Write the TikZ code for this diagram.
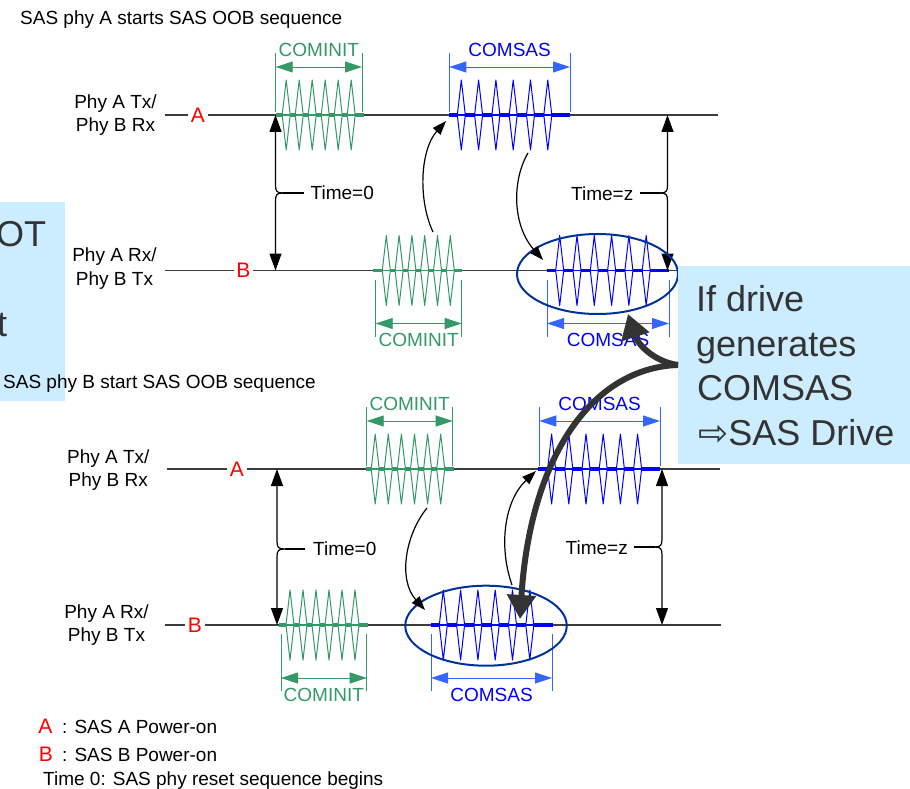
\documentclass[tikz,border=0pt]{standalone}
\usepackage{fontspec}
\setmainfont{Liberation Sans}
\newfontfamily\symfont{DejaVu Sans}
\usetikzlibrary{arrows.meta,shapes.geometric}
\definecolor{linegray}{RGB}{60,60,60}
\definecolor{cgreen}{RGB}{51,153,102}
\definecolor{cblue}{RGB}{0,0,255}
\definecolor{lblue}{RGB}{51,102,255}
\definecolor{ellnavy}{RGB}{0,51,153}
\definecolor{boxblue}{RGB}{204,236,255}
\definecolor{textgray}{RGB}{51,51,51}
\definecolor{bigarrgray}{RGB}{51,51,51}

% burst: #1 colour, #2 x0, #3 baseline y, #4 width, #5 first peak offset, #6 spacing
\newcommand\oobburst[6]{%
  \draw[#1, line width=1.2pt] (#2,#3) -- ++(#4,0);
  \foreach \k in {0,...,6}{%
    \pgfmathsetmacro\oobsa{\k==0 ? #2 : #2+#5+(\k-1)*#6+4}%
    \pgfmathsetmacro\oobsb{\k==6 ? #2+#4 : #2+#5+\k*#6-4}%
    \draw[#1, line width=3.5pt] (\oobsa,#3) -- (\oobsb,#3);
  }%
  \foreach \k in {0,...,5}{%
    \pgfmathsetmacro\oobpx{#2+#5+\k*#6}%
    \draw[#1, line width=1pt, line join=round] (\oobpx-4,#3) -- (\oobpx,#3-35) -- (\oobpx+4,#3) -- (\oobpx,#3+35) -- cycle;
  }%
}
% span marks: #1 bar colour, #2 text colour, #3 x0, #4 width, #5 baseline y, #6 text, #7 node name
\newcommand\oobspanup[7]{%
  \draw[#1, line width=0.9pt] (#3,#5-62) -- (#3,#5-3) ({#3+#4},#5-62) -- ({#3+#4},#5-3);
  \draw[#1, line width=0.9pt, spanarr] (#3,#5-48) -- ({#3+#4},#5-48);
  \node[text=#2, anchor=base] (#7) at ({#3+#4/2},#5-58.5) {#6};
}
\newcommand\oobspandown[7]{%
  \draw[#1, line width=0.9pt] (#3,#5+9) -- (#3,#5+66) ({#3+#4},#5+9) -- ({#3+#4},#5+66);
  \draw[#1, line width=0.9pt, spanarr] (#3,#5+53) -- ({#3+#4},#5+53);
  \node[text=#2, anchor=base] (#7) at ({#3+#4/2},#5+76) {#6};
}
% time brace: #1 x, #2 ytop, #3 ybot, #4 ymid, #5 dir, #6 name
\newcommand\oobtime[6]{%
  \coordinate (#6-top) at (#1,#2);
  \coordinate (#6-bot) at (#1,#3);
  \coordinate (#6-tip) at ({#1+#5*7.5},#4);
  \coordinate (#6-end) at ({#1+#5*28},#4);
  \draw[timearr] (#6-tip) .. controls ({#1+#5*1.5},#4) and (#1,{#4-1.5}) .. (#1,{#4-8}) -- (#6-top);
  \draw[timearr] (#6-tip) .. controls ({#1+#5*1.5},#4) and (#1,{#4+1.5}) .. (#1,{#4+8}) -- (#6-bot);
  \draw[line width=1.2pt] (#6-tip) -- (#6-end);
}

\begin{document}
\begin{tikzpicture}[x=1pt,y=-1pt,
  every node/.style={inner sep=0pt, font=\fontsize{19pt}{22pt}\selectfont, text=black},
  tl/.style={draw=linegray, line width=1.4pt},
  redl/.style={text=red, font=\fontsize{21pt}{24pt}\selectfont, fill=white, inner xsep=2.5pt},
  spanarr/.style={{Triangle[length=17pt,width=11pt]}-{Triangle[length=17pt,width=11pt]}},
  blkarr/.style={draw=black, line width=1.2pt, -{Triangle[length=14pt,width=10pt]}},
  timearr/.style={draw=black, line width=1.2pt, -{Triangle[length=17pt,width=12pt]}},
  bigarr/.style={draw=bigarrgray, line width=6pt, -{Triangle[length=24pt,width=28pt]}},
  calltext/.style={text=textgray, font=\fontsize{36pt}{44pt}\selectfont, anchor=base west},
  ellmark/.style={draw=ellnavy, line width=2pt, ellipse, inner sep=0pt},
]
\useasboundingbox (0,0) rectangle (910,789);
\fill[white] (0,0) rectangle (910,789);

% left (cut-off) callout
\node[fill=boxblue, anchor=north west, minimum width=65pt, minimum height=198.7pt] (callL) at (0,202) {};
\node[calltext] (cl1) at (-4,246.7) {OT};
\node[calltext] (cl2) at (-3,336.7) {t};

% titles
\node[anchor=base west] (t1) at (20,24.3) {SAS phy A starts SAS OOB sequence};
\node[anchor=base west] (t2) at (3,388.3) {SAS phy B start SAS OOB sequence};

% row labels
\node[anchor=base] (la1) at (115.5,108.3) {Phy A Tx/};
\node[anchor=base] (la2) at (115.5,131.7) {Phy B Rx};
\node[anchor=base] (lb1) at (114.5,261.7) {Phy A Rx/};
\node[anchor=base] (lb2) at (114.5,285) {Phy B Tx};
\node[anchor=base] (lc1) at (108.3,463.3) {Phy A Tx/};
\node[anchor=base] (lc2) at (108.3,486.7) {Phy B Rx};
\node[anchor=base] (ld1) at (106.5,618.3) {Phy A Rx/};
\node[anchor=base] (ld2) at (106.5,641) {Phy B Tx};

% time lines
\coordinate (LAs) at (165,115);   \coordinate (LAe) at (718,115);
\coordinate (LBs) at (165,270.5); \coordinate (LBe) at (718,270.5);
\coordinate (LCs) at (167,469);   \coordinate (LCe) at (720,469);
\coordinate (LDs) at (165,625);   \coordinate (LDe) at (721,625);
\draw[tl] (LAs) -- (LAe);
\draw[tl] (LBs) -- (LBe);
\draw[tl] (LCs) -- (LCe);
\draw[tl] (LDs) -- (LDe);
\node[redl] (ra1) at (198,115) {A};
\node[redl] (rb1) at (243.5,270.5) {B};
\node[redl] (ra2) at (237,469) {A};
\node[redl] (rb2) at (195,625) {B};

% bursts - top section
\oobburst{cgreen}{275.7}{115}{88}{10.5}{13}
\oobspanup{cgreen}{cgreen}{275.7}{86.3}{115}{COMINIT}{ciA}
\oobburst{cblue}{449.3}{115}{121}{12}{17.3}
\oobspanup{lblue}{cblue}{449.3}{120.7}{115}{COMSAS}{csA}
\oobburst{cgreen}{373.3}{270.5}{89}{13}{12.8}
\oobspandown{cgreen}{cgreen}{375.7}{86}{270.5}{COMINIT}{ciB}
\oobburst{cblue}{546.7}{270.5}{122}{13}{17.3}
\oobspandown{lblue}{cblue}{547}{122}{270.5}{COMSAS}{csB}

% bursts - bottom section
\oobburst{cgreen}{365.7}{469}{88}{9.5}{13.1}
\oobspanup{cgreen}{cgreen}{366.7}{86}{469}{COMINIT}{ciC}
\oobburst{cblue}{538.3}{469}{122}{13.3}{17.2}
\oobspanup{lblue}{cblue}{539.3}{120.7}{469}{COMSAS}{csC}
\oobburst{cgreen}{279}{625}{89}{11}{13}
\oobspandown{cgreen}{cgreen}{281}{85.7}{625}{COMINIT}{ciD}
\oobburst{cblue}{430.7}{625}{122}{12.6}{17.3}
\oobspandown{lblue}{cblue}{431}{121}{625}{COMSAS}{csD}

% time braces
\oobtime{275.5}{115}{270.5}{193}{1}{tz1}
\node[anchor=base west] (tz1l) at (310.5,199.3) {Time=0};
\oobtime{667.5}{115}{270.5}{193}{(-1)}{tzz1}
\node[anchor=base east] (tzz1l) at (633.5,200) {Time=z};
\oobtime{277}{469}{625}{549}{1}{tz2}
\node[anchor=base west] (tz2l) at (313,555) {Time=0};
\oobtime{662}{469}{625}{547}{(-1)}{tzz2}
\node[anchor=base east] (tzz2l) at (628,554.3) {Time=z};

% ellipses
\node[ellmark, minimum width=161pt, minimum height=80pt] (ellT) at (597.5,274) {};
\node[ellmark, minimum width=161.5pt, minimum height=80pt] (ellB) at (486,625.7) {};

% curved arrows
\coordinate (c1s) at (433,232);   \coordinate (c1e) at (446,121);
\coordinate (c2s) at (528,153);   \coordinate (c2e) at (543,260);
\coordinate (c3s) at (427,508);   \coordinate (c3e) at (425,610);
\coordinate (c4s) at (512,585);   \coordinate (c4e) at (536,471);
\draw[blkarr] (c1s) .. controls (418,200) and (420,150) .. (c1e);
\draw[blkarr] (c2s) .. controls (512,180) and (512,225) .. (c2e);
\draw[blkarr] (c3s) .. controls (405,535) and (398,580) .. (c3e);
\draw[blkarr] (c4s) .. controls (498,545) and (505,500) .. (c4e);

% right callout
\node[fill=boxblue, anchor=north west, minimum width=232pt, minimum height=197.5pt] (callR) at (678,266) {};
\node[calltext] (cr1) at (696,311.5) {If drive};
\node[calltext] (cr2) at (696,356) {generates};
\node[calltext] (cr3) at (697,400.5) {COMSAS};
\node[calltext] (cr4) at (698,445) {{\symfont ⇨}SAS Drive};

% big arrows
\coordinate (bg1) at (628,314);
\coordinate (bg2) at (520,619);
\draw[bigarr] (callR.west) .. controls (655,362) and (638,345) .. (bg1);
\draw[bigarr] (callR.west) .. controls (590,368) and (530,460) .. (bg2);

% legend
\node[text=red, font=\fontsize{21pt}{24pt}\selectfont, anchor=base] (lgA) at (45.5,733.3) {A};
\node[anchor=base west] (lgAt) at (62,733.3) {: SAS A Power-on};
\node[text=red, font=\fontsize{21pt}{24pt}\selectfont, anchor=base] (lgB) at (46,761.5) {B};
\node[anchor=base west] (lgBt) at (62,761.5) {: SAS B Power-on};
\node[anchor=base west] (lgT) at (43,785.3) {Time 0: SAS phy reset sequence begins};
\end{tikzpicture}
\end{document}
